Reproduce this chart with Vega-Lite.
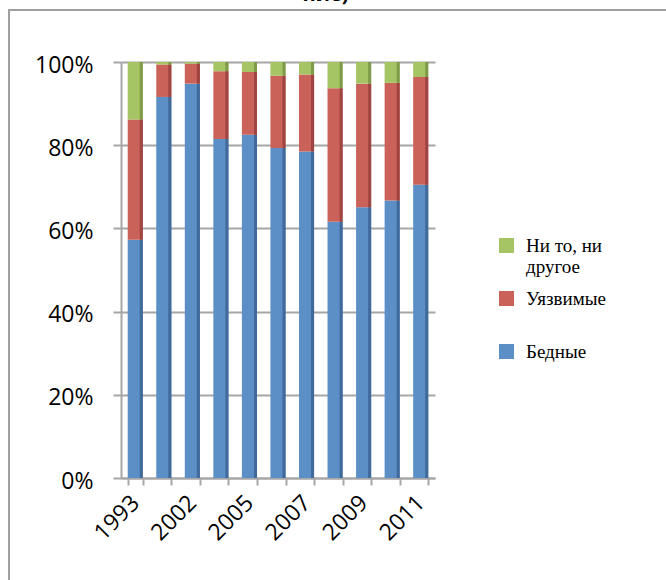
{
  "$schema": "https://vega.github.io/schema/vega-lite/v6.json",
  "width": 667,
  "height": 580,
  "autosize": {"type": "none"},
  "padding": {"left": 9, "top": 10, "right": -10, "bottom": -10},
  "background": "white",
  "title": {
    "text": "ние)",
    "frame": "group",
    "anchor": "middle",
    "dx": -17,
    "offset": 5,
    "font": "Open Sans",
    "fontSize": 20,
    "fontWeight": "bold",
    "color": "black"
  },
  "config": {
    "view": {"stroke": "#A0A0A0", "strokeWidth": 2},
    "axis": {
      "domainColor": "#A6A6A6",
      "domainWidth": 2,
      "tickColor": "#A6A6A6",
      "tickWidth": 2,
      "gridColor": "#A6A6A6",
      "gridWidth": 2,
      "labelFont": "Open Sans",
      "labelFontSize": 22,
      "labelColor": "black",
      "title": null
    }
  },
  "data": {
    "values": [
      {"year": "1993", "cat": "Бедные", "k": 1, "value": 57.3},
      {"year": "1993", "cat": "Уязвимые", "k": 2, "value": 28.9},
      {"year": "1993", "cat": "Ни то, ни другое", "k": 3, "value": 13.8},
      {"year": "2000", "cat": "Бедные", "k": 1, "value": 91.6},
      {"year": "2000", "cat": "Уязвимые", "k": 2, "value": 7.8},
      {"year": "2000", "cat": "Ни то, ни другое", "k": 3, "value": 0.6},
      {"year": "2002", "cat": "Бедные", "k": 1, "value": 94.8},
      {"year": "2002", "cat": "Уязвимые", "k": 2, "value": 4.8},
      {"year": "2002", "cat": "Ни то, ни другое", "k": 3, "value": 0.4},
      {"year": "2004", "cat": "Бедные", "k": 1, "value": 81.5},
      {"year": "2004", "cat": "Уязвимые", "k": 2, "value": 16.3},
      {"year": "2004", "cat": "Ни то, ни другое", "k": 3, "value": 2.2},
      {"year": "2005", "cat": "Бедные", "k": 1, "value": 82.5},
      {"year": "2005", "cat": "Уязвимые", "k": 2, "value": 15.1},
      {"year": "2005", "cat": "Ни то, ни другое", "k": 3, "value": 2.4},
      {"year": "2006", "cat": "Бедные", "k": 1, "value": 79.3},
      {"year": "2006", "cat": "Уязвимые", "k": 2, "value": 17.4},
      {"year": "2006", "cat": "Ни то, ни другое", "k": 3, "value": 3.3},
      {"year": "2007", "cat": "Бедные", "k": 1, "value": 78.5},
      {"year": "2007", "cat": "Уязвимые", "k": 2, "value": 18.5},
      {"year": "2007", "cat": "Ни то, ни другое", "k": 3, "value": 3.0},
      {"year": "2008", "cat": "Бедные", "k": 1, "value": 61.6},
      {"year": "2008", "cat": "Уязвимые", "k": 2, "value": 32.1},
      {"year": "2008", "cat": "Ни то, ни другое", "k": 3, "value": 6.3},
      {"year": "2009", "cat": "Бедные", "k": 1, "value": 65.1},
      {"year": "2009", "cat": "Уязвимые", "k": 2, "value": 29.7},
      {"year": "2009", "cat": "Ни то, ни другое", "k": 3, "value": 5.2},
      {"year": "2010", "cat": "Бедные", "k": 1, "value": 66.7},
      {"year": "2010", "cat": "Уязвимые", "k": 2, "value": 28.3},
      {"year": "2010", "cat": "Ни то, ни другое", "k": 3, "value": 5.0},
      {"year": "2011", "cat": "Бедные", "k": 1, "value": 70.5},
      {"year": "2011", "cat": "Уязвимые", "k": 2, "value": 25.9},
      {"year": "2011", "cat": "Ни то, ни другое", "k": 3, "value": 3.6}
    ]
  },
  "encoding": {
    "x": {
      "field": "year",
      "type": "ordinal",
      "sort": null,
      "scale": {"type": "band", "range": [112, 426], "paddingInner": 0.47, "paddingOuter": 0.235},
      "axis": {
        "orient": "bottom",
        "offset": -112,
        "labelAngle": -45,
        "labelAlign": "right",
        "labelBaseline": "middle",
        "labelPadding": 14,
        "labelFontSize": 23,
        "tickSize": 7,
        "tickBand": "extent",
        "grid": false,
        "labelExpr": "indexof(['1993','2002','2005','2007','2009','2011'], datum.label) >= 0 ? datum.label : ''"
      }
    },
    "y": {
      "field": "value",
      "type": "quantitative",
      "stack": "normalize",
      "scale": {"domain": [0, 1], "nice": false, "range": [468, 52]},
      "axis": {
        "orient": "left",
        "offset": -112,
        "values": [0, 0.2, 0.4, 0.6, 0.8, 1],
        "format": ".0%",
        "tickSize": 8,
        "labelPadding": 20,
        "labelOffset": 3,
        "labelFontSize": 23,
        "grid": true
      }
    },
    "order": {"field": "k", "type": "quantitative"}
  },
  "layer": [
    {
      "mark": {"type": "bar"},
      "encoding": {
        "color": {
          "field": "cat",
          "type": "nominal",
          "scale": {
            "domain": ["Ни то, ни другое", "Уязвимые", "Бедные"],
            "range": ["#A5C463", "#CB625A", "#5B8FC6"]
          },
          "legend": {
            "title": null,
            "orient": "none",
            "legendX": 488,
            "legendY": 226,
            "symbolType": "square",
            "symbolSize": 225,
            "symbolStrokeWidth": 0,
            "symbolOpacity": 1,
            "labelFont": "Liberation Serif",
            "labelFontSize": 19,
            "labelColor": "black",
            "labelLimit": 200,
            "rowPadding": 12,
            "labelOffset": 10,
            "labelExpr": "datum.label == 'Ни то, ни другое' ? ['Ни то, ни', 'другое'] : [datum.label, ' ']"
          }
        }
      }
    },
    {
      "mark": {"type": "bar", "width": 3, "xOffset": 6},
      "encoding": {
        "color": {
          "field": "cat",
          "type": "nominal",
          "scale": {
            "domain": ["Ни то, ни другое", "Уязвимые", "Бедные"],
            "range": ["#7F9A4A", "#9E4541", "#41699A"]
          },
          "legend": null
        }
      }
    }
  ],
  "resolve": {"scale": {"color": "independent"}}
}
